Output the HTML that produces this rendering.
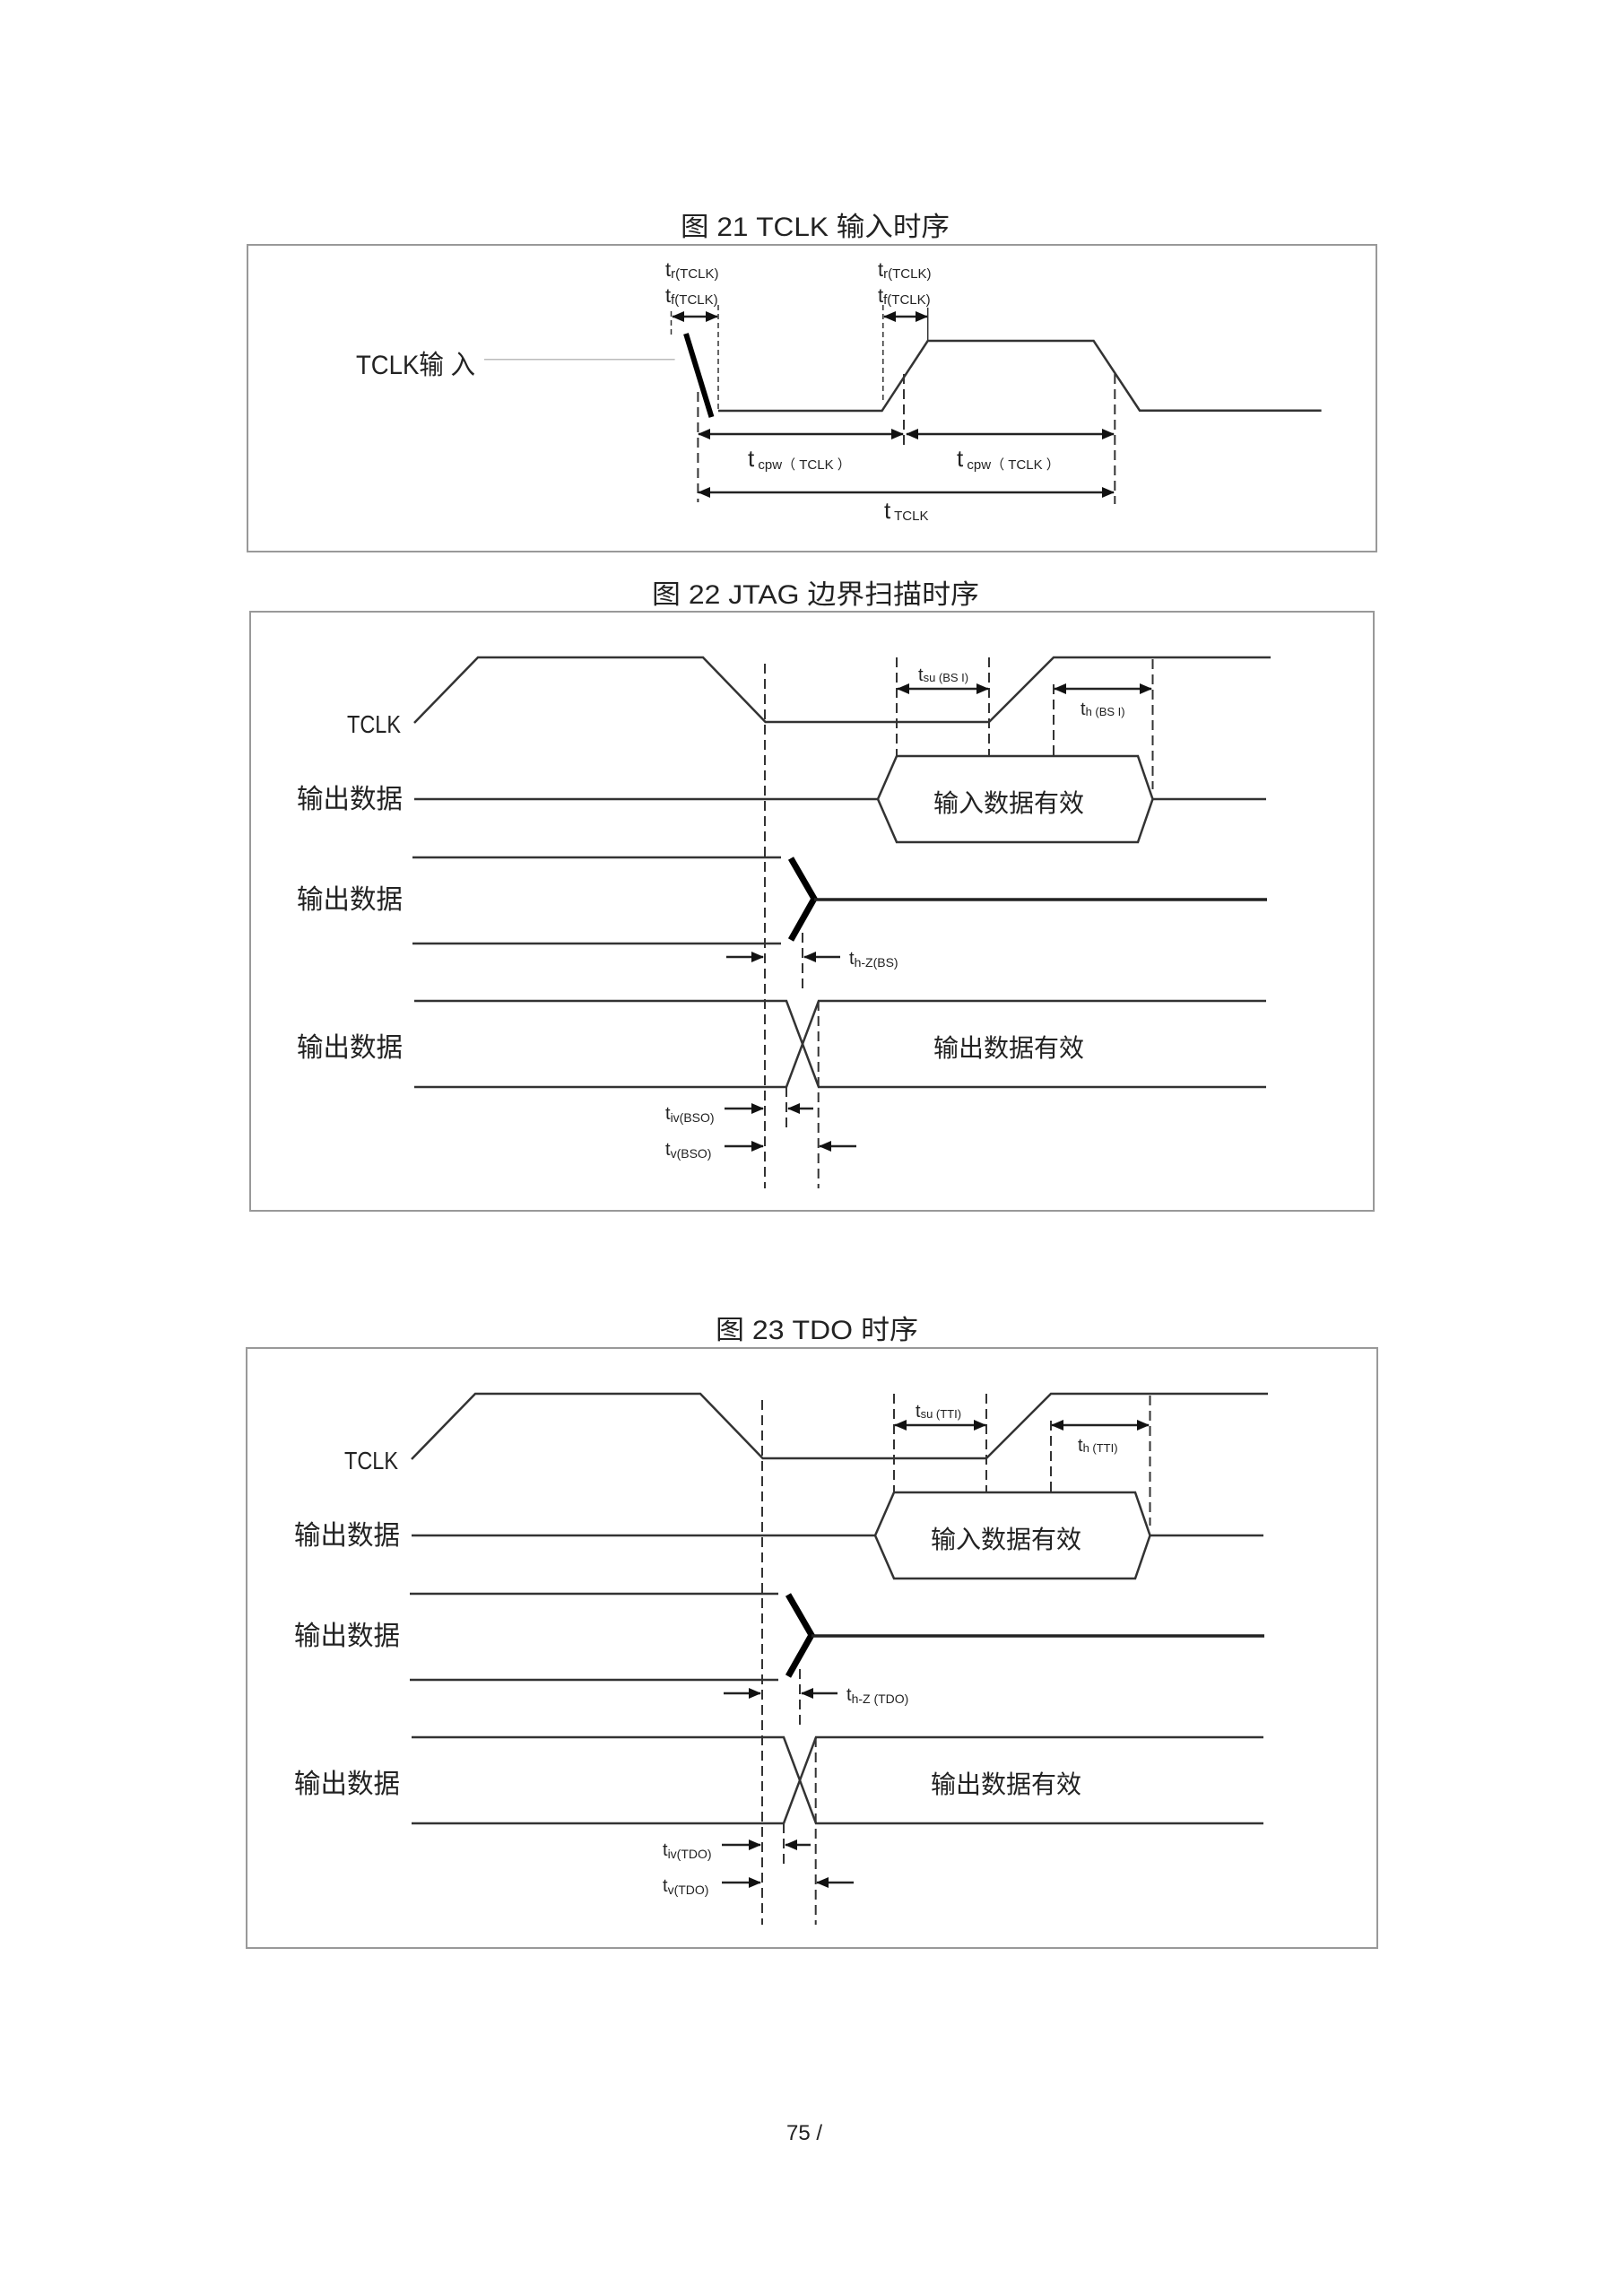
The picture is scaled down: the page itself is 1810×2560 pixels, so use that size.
<!DOCTYPE html>
<html><head><meta charset="utf-8"><style>
html,body{margin:0;padding:0;background:#fff}
svg{display:block}
text{font-family:"Liberation Sans","Noto Sans CJK SC",sans-serif;fill:#222}
.w{fill:none;stroke:#333;stroke-width:2.5}
.d{fill:none;stroke:#333;stroke-width:2;stroke-dasharray:11 6}
.t{fill:none;stroke:#333;stroke-width:1.5;stroke-dasharray:6 4}
.a{fill:none;stroke:#222;stroke-width:2.5}
.box{fill:none;stroke:#999;stroke-width:2}
</style></head><body>
<svg width="1810" height="2560" viewBox="0 0 1810 2560" xmlns="http://www.w3.org/2000/svg">
<defs>
<marker id="ah" markerWidth="14" markerHeight="12" refX="13" refY="6" orient="auto-start-reverse" markerUnits="userSpaceOnUse"><path d="M0,0 L14,6 L0,12z" fill="#111"/></marker>
</defs>

<!-- Figure 21 -->
<text x="759" y="263" font-size="30" textLength="300" lengthAdjust="spacingAndGlyphs">图 21 TCLK 输入时序</text>
<rect class="box" x="276" y="273" width="1259" height="342"/>
<text x="742" y="308" font-size="22">t<tspan font-size="15" dy="2">r(TCLK)</tspan></text>
<text x="742" y="337" font-size="22">t<tspan font-size="15" dy="2">f(TCLK)</tspan></text>
<text x="979" y="308" font-size="22">t<tspan font-size="15" dy="2">r(TCLK)</tspan></text>
<text x="979" y="337" font-size="22">t<tspan font-size="15" dy="2">f(TCLK)</tspan></text>
<line class="a" x1="750" y1="353" x2="800" y2="353" marker-start="url(#ah)" marker-end="url(#ah)"/>
<line class="a" x1="986" y1="353" x2="1034" y2="353" marker-start="url(#ah)" marker-end="url(#ah)"/>
<line class="t" x1="748.5" y1="347" x2="748.5" y2="377"/>
<line class="t" x1="801" y1="340" x2="801" y2="458"/>
<line class="t" x1="984.8" y1="340" x2="984.8" y2="450"/>
<line class="t" x1="1034.7" y1="343" x2="1034.7" y2="380" style="stroke-dasharray:none"/>
<line x1="765" y1="372" x2="793.5" y2="465" stroke="#000" stroke-width="6"/>
<polyline class="w" points="801,458 983.6,458 1034.7,380 1219.6,380 1271,457.7 1473.6,457.7"/>
<line x1="540" y1="400.7" x2="752.6" y2="400.7" stroke="#bbb" stroke-width="1.5"/>
<text x="397" y="417" font-size="30" textLength="133" lengthAdjust="spacingAndGlyphs">TCLK输 入</text>
<line class="d" x1="778.4" y1="437" x2="778.4" y2="560"/>
<line class="d" x1="1008" y1="417" x2="1008" y2="497"/>
<line class="d" x1="1243.3" y1="417" x2="1243.3" y2="562"/>
<line class="a" x1="779" y1="484" x2="1007" y2="484" marker-start="url(#ah)" marker-end="url(#ah)"/>
<line class="a" x1="1011" y1="484" x2="1242" y2="484" marker-start="url(#ah)" marker-end="url(#ah)"/>
<line class="a" x1="779" y1="549" x2="1242" y2="549" marker-start="url(#ah)" marker-end="url(#ah)"/>
<text x="834" y="520" font-size="26">t<tspan font-size="15" dy="3"> cpw（ TCLK ）</tspan></text>
<text x="1067" y="520" font-size="26">t<tspan font-size="15" dy="3"> cpw（ TCLK ）</tspan></text>
<text x="986" y="578" font-size="26">t<tspan font-size="15" dy="2"> TCLK</tspan></text>

<!-- Figure 22 -->
<text x="727" y="673" font-size="30" textLength="365" lengthAdjust="spacingAndGlyphs">图 22 JTAG 边界扫描时序</text>
<rect class="box" x="279" y="682" width="1253" height="668"/>

<g id="tim">
<text x="387" y="817" font-size="28" textLength="60" lengthAdjust="spacingAndGlyphs">TCLK</text>
<polyline class="w" points="462,806 533,733 784,733 853.6,805 1103,805 1175,733 1417,733"/>
<line class="d" x1="853" y1="740" x2="853" y2="1325"/>
<line class="d" x1="1000" y1="733" x2="1000" y2="843"/>
<line class="d" x1="1103" y1="733" x2="1103" y2="843"/>
<line class="d" x1="1175" y1="763" x2="1175" y2="843"/>
<line class="d" x1="1285.5" y1="735" x2="1285.5" y2="880"/>
<line class="a" x1="1001" y1="768" x2="1102" y2="768" marker-start="url(#ah)" marker-end="url(#ah)"/>
<line class="a" x1="1176" y1="768" x2="1284" y2="768" marker-start="url(#ah)" marker-end="url(#ah)"/>
<text x="331" y="901" font-size="30" textLength="118" lengthAdjust="spacingAndGlyphs">输出数据</text>
<line class="w" x1="462" y1="891" x2="979" y2="891" stroke="#666"/>
<polygon class="w" points="979,891 1000,843 1269,843 1285.5,891 1269,939 1000,939"/>
<line class="w" x1="1285.5" y1="891" x2="1412" y2="891" stroke="#666"/>
<text x="1125" y="905" font-size="28" text-anchor="middle">输入数据有效</text>
<text x="331" y="1013" font-size="30" textLength="118" lengthAdjust="spacingAndGlyphs">输出数据</text>
<line class="w" x1="460" y1="956" x2="871" y2="956"/>
<line class="w" x1="460" y1="1052" x2="871" y2="1052"/>
<polyline points="882,957 908,1002 882,1048" fill="none" stroke="#000" stroke-width="7"/>
<line x1="908" y1="1003" x2="1413" y2="1003" stroke="#222" stroke-width="3.5"/>
<line class="a" x1="810" y1="1067" x2="851" y2="1067" marker-end="url(#ah)"/>
<line class="a" x1="937" y1="1067" x2="897" y2="1067" marker-end="url(#ah)"/>
<line class="d" x1="895" y1="1040" x2="895" y2="1105"/>
<text x="331" y="1178" font-size="30" textLength="118" lengthAdjust="spacingAndGlyphs">输出数据</text>
<polyline class="w" points="462,1116 877,1116 913,1212 1412,1212"/>
<polyline class="w" points="462,1212 877,1212 913,1116 1412,1116"/>
<text x="1125" y="1178" font-size="28" text-anchor="middle">输出数据有效</text>
<line class="d" x1="877" y1="1212" x2="877" y2="1260"/>
<line class="d" x1="912.7" y1="1116" x2="912.7" y2="1325"/>
<line class="a" x1="808" y1="1236" x2="851" y2="1236" marker-end="url(#ah)"/>
<line class="a" x1="907" y1="1236" x2="879" y2="1236" marker-end="url(#ah)"/>
<line class="a" x1="808" y1="1278" x2="851" y2="1278" marker-end="url(#ah)"/>
<line class="a" x1="955" y1="1278" x2="914" y2="1278" marker-end="url(#ah)"/>
</g>
<text x="1024" y="759" font-size="20">t<tspan font-size="13" dy="1">su (BS I)</tspan></text>
<text x="1205" y="797" font-size="20">t<tspan font-size="13" dy="1">h (BS I)</tspan></text>
<text x="947" y="1075" font-size="20">t<tspan font-size="14" dy="3">h-Z(BS)</tspan></text>
<text x="742" y="1248" font-size="20">t<tspan font-size="14" dy="3">iv(BSO)</tspan></text>
<text x="742" y="1288" font-size="20">t<tspan font-size="14" dy="3">v(BSO)</tspan></text>

<!-- Figure 23 -->
<text x="798" y="1493" font-size="30" textLength="226" lengthAdjust="spacingAndGlyphs">图 23 TDO 时序</text>
<rect class="box" x="275" y="1503" width="1261" height="669"/>
<use href="#tim" transform="translate(-3,821)"/>
<text x="1021" y="1580" font-size="20">t<tspan font-size="13" dy="1">su (TTI)</tspan></text>
<text x="1202" y="1618" font-size="20">t<tspan font-size="13" dy="1">h (TTI)</tspan></text>
<text x="944" y="1896" font-size="20">t<tspan font-size="14" dy="3">h-Z (TDO)</tspan></text>
<text x="739" y="2069" font-size="20">t<tspan font-size="14" dy="3">iv(TDO)</tspan></text>
<text x="739" y="2109" font-size="20">t<tspan font-size="14" dy="3">v(TDO)</tspan></text>

<text x="897" y="2386" font-size="24" text-anchor="middle">75 /</text>
</svg>
</body></html>
